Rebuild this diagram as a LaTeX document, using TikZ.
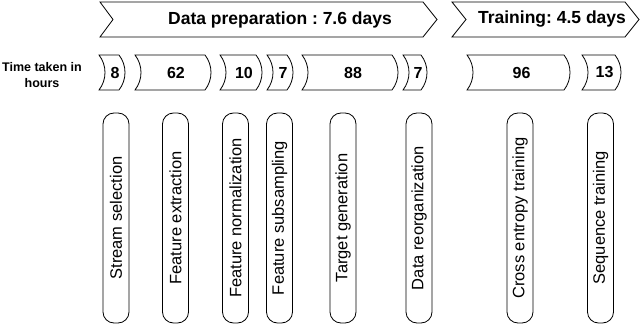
\documentclass[tikz,border=0pt]{standalone}
\usepackage{fontspec}
\setmainfont{Liberation Sans}
\usepackage{graphicx}
\frenchspacing
\newcommand\hrsbox[4]{%
  \draw[hrs] (#1,55) -- ({#2-6},55) .. controls ({#2+2},65.3) and ({#2+2},79.7) .. ({#2-6},90)
    -- (#1,90) .. controls ({#1+8},79.7) and ({#1+8},65.3) .. (#1,55) -- cycle;
  \node[num] (#3) at ({(#1+#2)/2+3},72.5) {#4};}
\begin{document}
\begin{tikzpicture}[x=1pt,y=-1pt, line width=0.8pt, line join=miter,
  banner/.style={draw=black, fill=white},
  hrs/.style={draw=black, fill=white},
  pill/.style={draw=black, fill=white, rounded corners=11pt, minimum width=26pt,
    minimum height=210pt, inner sep=0pt},
  title/.style={font=\bfseries\fontsize{17.5}{20}\selectfont},
  num/.style={font=\bfseries\fontsize{16}{19}\selectfont},
  side/.style={font=\bfseries\fontsize{12.5}{16}\selectfont, align=center}]
\useasboundingbox (0,0) rectangle (640,329);
% phase banners
\draw[banner] (100,2) -- (423,2) -- (437,19.5) -- (423,37) -- (100,37) -- (113,19.5) -- cycle;
\node[title] (dp) at (280,19.5) {Data preparation : 7.6 days};
\draw[banner] (452,2) -- (625,2) -- (639,19.5) -- (625,37) -- (452,37) -- (466,19.5) -- cycle;
\node[title] (tr) at (552,19.5) {Training: 4.5 days};
% time label
\node[side] (tt) at (42,75) {Time taken in\\hours};
% hour boxes
\hrsbox{99}{125}{h1}{8}
\hrsbox{135}{211}{h2}{62}
\hrsbox{220}{262}{h3}{10}
\hrsbox{267}{293}{h4}{7}
\hrsbox{302}{398}{h5}{88}
\hrsbox{403}{427}{h6}{7}
\hrsbox{467}{570}{h7}{96}
\hrsbox{582}{621}{h8}{13}
% step pills
\node[pill] (s1) at (116,218) {\rotatebox{90}{\fontsize{16.5}{19}\selectfont Stream selection}};
\node[pill] (s2) at (175.5,218) {\rotatebox{90}{\fontsize{16.5}{19}\selectfont Feature extraction}};
\node[pill] (s3) at (235.5,218) {\rotatebox{90}{\fontsize{16.5}{19}\selectfont Feature normalization}};
\node[pill] (s4) at (279.5,218) {\rotatebox{90}{\fontsize{16.5}{19}\selectfont Feature subsampling}};
\node[pill] (s5) at (343,218) {\rotatebox{90}{\fontsize{16.5}{19}\selectfont Target generation}};
\node[pill] (s6) at (419,218) {\rotatebox{90}{\fontsize{16.5}{19}\selectfont Data reorganization}};
\node[pill] (s7) at (520,218) {\rotatebox{90}{\fontsize{16.5}{19}\selectfont Cross entropy training}};
\node[pill] (s8) at (600.5,218) {\rotatebox{90}{\fontsize{16.5}{19}\selectfont Sequence training}};
\end{tikzpicture}
\end{document}
